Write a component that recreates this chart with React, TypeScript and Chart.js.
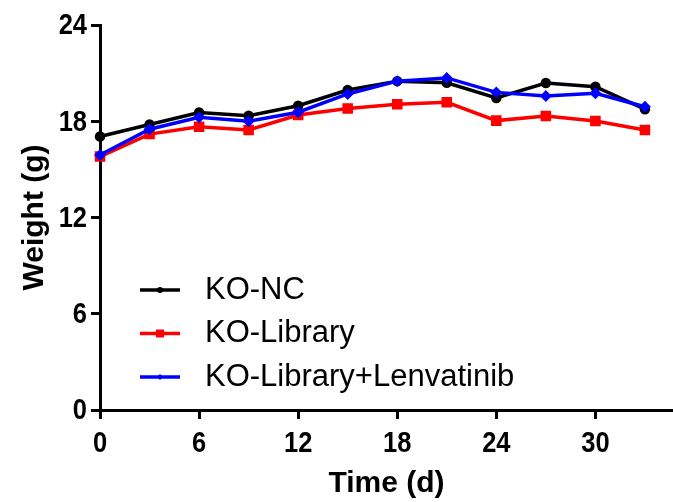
import React, { useEffect, useRef } from 'react';
import { Chart, registerables } from 'chart.js';

Chart.register(...registerables);

const days = [0, 3, 6, 9, 12, 15, 18, 21, 24, 27, 30, 33];
const koNC = [17.05, 17.8, 18.55, 18.35, 18.97, 19.95, 20.5, 20.4, 19.45, 20.38, 20.15, 18.75];
const koLibrary = [15.8, 17.2, 17.66, 17.46, 18.39, 18.8, 19.06, 19.18, 18.04, 18.33, 18.02, 17.46];
const koLibLenva = [15.9, 17.5, 18.25, 18.0, 18.56, 19.7, 20.5, 20.7, 19.8, 19.58, 19.74, 18.9];
const seriesNames = ['KO-NC', 'KO-Library', 'KO-Library+Lenvatinib'];
const xTicks = [0, 6, 12, 18, 24, 30];
const yTicks = [0, 6, 12, 18, 24];

const narrowTickPlugin = {
  id: 'narrowTicks',
  afterDraw(chart: any) {
    const ctx = chart.ctx;
    const xs = chart.scales.x;
    const ys = chart.scales.y;
    const sx = 0.85;
    ctx.save();
    ctx.fillStyle = '#000';
    ctx.font = 'bold 30px "Liberation Sans", Arial, sans-serif';
    ctx.textBaseline = 'middle';
    ys.ticks.forEach((t: any) => {
      const py = ys.getPixelForValue(t.value);
      const label = String(t.value);
      ctx.save();
      ctx.translate(87, py);
      ctx.scale(sx, 1);
      ctx.textAlign = 'right';
      ctx.fillText(label, 0, 1);
      ctx.restore();
    });
    xs.ticks.forEach((t: any) => {
      const px = xs.getPixelForValue(t.value);
      const label = String(t.value);
      ctx.save();
      ctx.translate(px, xs.top + 33);
      ctx.scale(sx, 1);
      ctx.textAlign = 'center';
      ctx.fillText(label, 0, 1);
      ctx.restore();
    });
    ctx.restore();
  },
};

const legendPlugin = {
  id: 'insideLegend',
  afterDraw(chart: any) {
    const ctx = chart.ctx;
    const area = chart.chartArea;
    const x0 = area.left + 40;
    const lineLen = 40;
    const y0 = 290;
    const gap = 43.5;
    ctx.save();
    chart.data.datasets.forEach((ds: any, i: number) => {
      const y = y0 + i * gap;
      const cx = x0 + lineLen / 2;
      ctx.strokeStyle = ds.borderColor;
      ctx.lineWidth = 3.5;
      ctx.beginPath();
      ctx.moveTo(x0, y);
      ctx.lineTo(x0 + lineLen, y);
      ctx.stroke();
      ctx.fillStyle = ds.borderColor;
      ctx.beginPath();
      if (ds.pointStyle === 'rect') {
        ctx.rect(cx - 4, y - 4, 8, 8);
      } else if (ds.pointStyle === 'rectRot') {
        ctx.moveTo(cx - 3, y);
        ctx.lineTo(cx, y - 3);
        ctx.lineTo(cx + 3, y);
        ctx.lineTo(cx, y + 3);
        ctx.closePath();
      } else {
        ctx.arc(cx, y, 3, 0, Math.PI * 2);
      }
      ctx.fill();
      ctx.fillStyle = '#000';
      ctx.font = '31px "Liberation Sans", Arial, sans-serif';
      ctx.textBaseline = 'middle';
      ctx.textAlign = 'left';
      ctx.fillText(ds.label, x0 + 65, y);
    });
    ctx.restore();
  },
};

export default function App() {
  const ref = useRef<HTMLCanvasElement | null>(null);

  useEffect(() => {
    document.body.style.margin = '0';
    const canvas = ref.current;
    if (!canvas) return;
    const titleFont = { family: '"Liberation Sans", Arial, sans-serif', size: 30, weight: 'bold' as const };
    const chart = new Chart(canvas, {
      type: 'line',
      data: {
        datasets: [
          {
            label: seriesNames[0],
            data: days.map((d, i) => ({ x: d, y: koNC[i] })),
            borderColor: '#000000',
            backgroundColor: '#000000',
            pointStyle: 'circle',
            pointRadius: 3.5,
            borderWidth: 3.5,
            order: 1,
            clip: false,
          },
          {
            label: seriesNames[1],
            data: days.map((d, i) => ({ x: d, y: koLibrary[i] })),
            borderColor: '#ff0000',
            backgroundColor: '#ff0000',
            pointStyle: 'rect',
            pointRadius: 5,
            borderWidth: 3.5,
            order: 2,
            clip: false,
          },
          {
            label: seriesNames[2],
            data: days.map((d, i) => ({ x: d, y: koLibLenva[i] })),
            borderColor: '#0000ff',
            backgroundColor: '#0000ff',
            pointStyle: 'rectRot',
            pointRadius: 3.5,
            borderWidth: 3.5,
            order: 0,
            clip: false,
          },
        ] as any,
      },
      options: {
        animation: false,
        responsive: false,
        layout: { autoPadding: false, padding: { top: 25, right: 0, left: 0, bottom: 0 } },
        plugins: { legend: { display: false }, tooltip: { enabled: false } },
        elements: { line: { tension: 0 }, point: { borderWidth: 1 } },
        scales: {
          x: {
            type: 'linear',
            min: 0,
            max: 34.7,
            afterBuildTicks: (s: any) => {
              s.ticks = xTicks.map((v) => ({ value: v }));
            },
            afterFit: (s: any) => {
              s.height = 92;
              s.paddingLeft = 0;
              s.paddingRight = 0;
            },
            ticks: { display: false },
            grid: { drawOnChartArea: false, drawTicks: true, tickLength: 9, tickWidth: 3, tickColor: '#000' },
            border: { display: true, color: '#000', width: 3 },
            title: { display: true, text: 'Time (d)', font: titleFont, color: '#000', padding: { top: 0, bottom: 0 } },
          },
          y: {
            type: 'linear',
            min: 0,
            max: 24,
            afterBuildTicks: (s: any) => {
              s.ticks = yTicks.map((v) => ({ value: v }));
            },
            afterFit: (s: any) => {
              s.width = 100;
              s.paddingTop = 0;
              s.paddingBottom = 0;
            },
            ticks: { display: false },
            grid: { drawOnChartArea: false, drawTicks: true, tickLength: 9, tickWidth: 3, tickColor: '#000' },
            border: { display: true, color: '#000', width: 3 },
            title: { display: true, text: 'Weight (g)', font: titleFont, color: '#000', padding: { top: 17, bottom: 0 } },
          },
        },
      } as any,
      plugins: [narrowTickPlugin, legendPlugin],
    });
    return () => chart.destroy();
  }, []);

  return <canvas ref={ref} width={673} height={502} style={{ display: 'block' }} />;
}
